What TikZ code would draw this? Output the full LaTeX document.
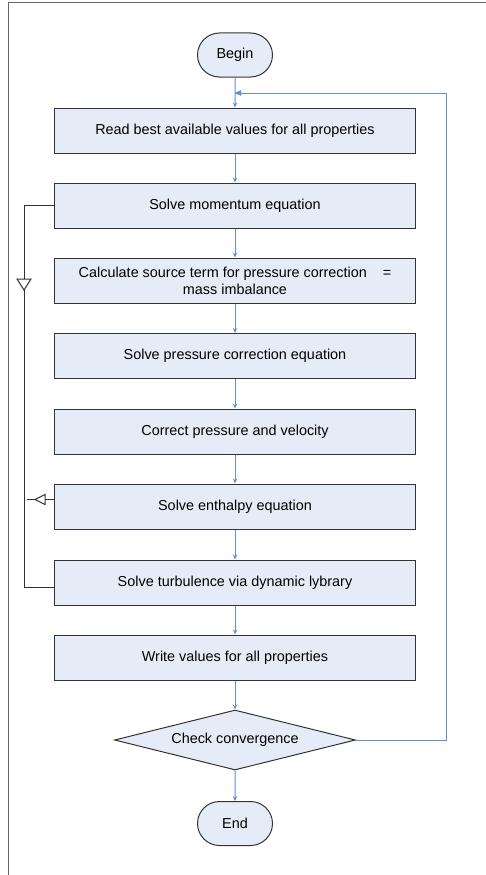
\documentclass[tikz,border=0pt]{standalone}
\usepackage{fontspec}
\setmainfont{Liberation Sans}
\usetikzlibrary{shapes.geometric,shapes.misc,arrows.meta}
\definecolor{boxfill}{HTML}{E6ECF7}
\definecolor{flowblue}{HTML}{6390D0}
\definecolor{edge}{HTML}{333333}
\definecolor{framegray}{HTML}{666666}
\tikzset{
  txt/.style={font=\fontsize{14.4}{17}\selectfont},
  stepbox/.style={txt, draw=edge, line width=1pt, fill=boxfill, minimum width=361pt, minimum height=45pt, inner sep=0pt, align=center},
  term/.style={txt, draw=edge, line width=1pt, fill=boxfill, rounded rectangle, minimum width=75pt, minimum height=44pt, inner sep=0pt},
  decide/.style={txt, draw=edge, line width=1pt, fill=boxfill, diamond, aspect=4, inner sep=0pt, minimum width=241pt, minimum height=60pt},
  flow/.style={draw=flowblue, line width=1pt, -{Stealth[length=5pt,width=4.5pt]}},
  loopline/.style={draw=edge, line width=1pt},
  opentri/.style={draw=edge, line width=1pt, fill=white}
}
\begin{document}
\begin{tikzpicture}[x=1pt,y=-1pt]
\useasboundingbox (0,0) rectangle (485,875);
\draw[framegray, line width=1pt] (8,876) -- (8,2.5) -- (486,2.5);
\node[term] (begin) at (235,55) {Begin};
\node[stepbox] (b1) at (235,130.5) {Read best available values for all properties};
\node[stepbox] (b2) at (235,205.5) {Solve momentum equation};
\node[stepbox] (b3) at (235,280.5) {Calculate source term for pressure correction\ \ \ \ =\\mass imbalance};
\node[stepbox] (b4) at (235,356) {Solve pressure correction equation};
\node[stepbox] (b5) at (235,431.5) {Correct pressure and velocity};
\node[stepbox] (b6) at (235,506.5) {Solve enthalpy equation};
\node[stepbox] (b7) at (235,582.5) {Solve turbulence via dynamic lybrary};
\node[stepbox] (b8) at (235,657.5) {Write values for all properties};
\node[decide] (chk) at (235,740) {Check convergence};
\node[term] (end) at (235,823.5) {End};
\coordinate (fbR) at (446,740);
\coordinate (fbT) at (446,93);
\coordinate (fbE) at (235,93);
\draw[flow] (begin) -- (b1);
\draw[flow] (b1) -- (b2);
\draw[flow] (b2) -- (b3);
\draw[flow] (b3) -- (b4);
\draw[flow] (b4) -- (b5);
\draw[flow] (b5) -- (b6);
\draw[flow] (b6) -- (b7);
\draw[flow] (b7) -- (b8);
\draw[flow] (b8) -- (chk);
\draw[flow] (chk) -- (end);
\draw[draw=flowblue, line width=1pt] (chk.east) -- (fbR) -- (fbT) -- (fbE);
\draw[flowblue, fill=flowblue] (fbE) -- ++(6,-2.5) -- ++(0,5) -- cycle;
% left loop
\coordinate (xL) at (24,0);
\coordinate (yB) at (0,587);
\coordinate (y6) at (0,499.5);
\coordinate (lT) at (xL |- b2.west);
\coordinate (lB) at (xL |- yB);
\coordinate (b7L) at (b7.west |- yB);
\coordinate (b6L) at (b6.west |- y6);
\coordinate (brE) at (27,499.5);
\draw[loopline] (b2.west) -- (lT) -- (lB) -- (b7L);
\draw[loopline] (b6L) -- (brE);
\draw[opentri] (17,279) -- (31,279) -- (24,290) -- cycle;
\draw[opentri] (35,499.5) -- (45,494.5) -- (45,504.5) -- cycle;
\end{tikzpicture}
\end{document}
